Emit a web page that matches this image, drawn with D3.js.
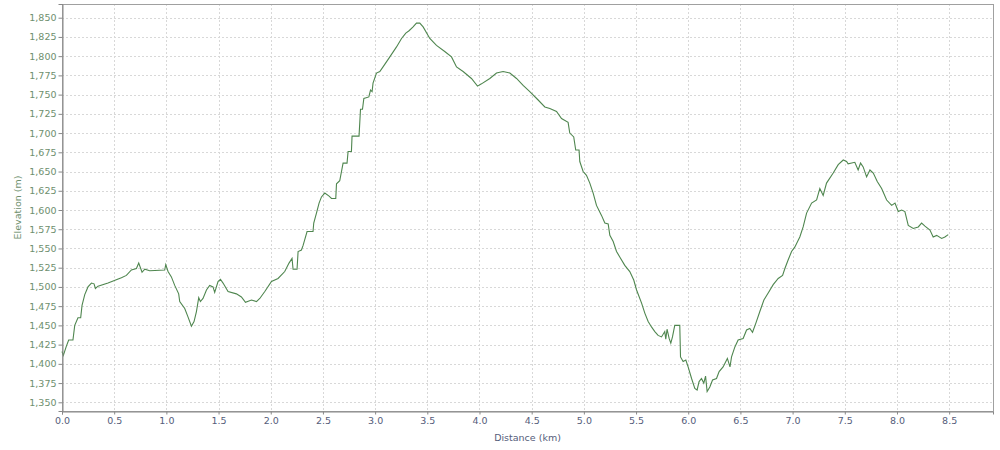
<!DOCTYPE html>
<html>
<head>
<meta charset="utf-8">
<script src="https://cdn.jsdelivr.net/npm/d3@7"></script>
<style>
  html, body { margin: 0; padding: 0; background: #fff; }
  svg { display: block; }
  text { font-family: "DejaVu Sans", sans-serif; }
</style>
</head>
<body>
<svg id="chart" width="1000" height="450"></svg>
<script>
const distanceKm = [0.000,0.013,0.042,0.064,0.105,0.122,0.153,0.179,0.192,0.218,0.249,0.282,0.307,0.320,0.345,0.441,0.569,0.617,0.665,0.713,0.735,0.767,0.793,0.840,0.984,0.994,1.016,1.048,1.080,1.118,1.128,1.176,1.207,1.240,1.265,1.288,1.310,1.326,1.351,1.384,1.415,1.447,1.463,1.495,1.518,1.543,1.591,1.671,1.719,1.758,1.815,1.863,1.895,1.943,2.007,2.070,2.134,2.175,2.204,2.214,2.252,2.262,2.294,2.310,2.348,2.405,2.412,2.438,2.463,2.486,2.518,2.559,2.582,2.623,2.630,2.661,2.693,2.731,2.741,2.773,2.779,2.846,2.860,2.879,2.892,2.940,2.956,2.971,2.980,3.013,3.045,3.076,3.141,3.205,3.253,3.294,3.325,3.364,3.396,3.428,3.460,3.524,3.588,3.667,3.732,3.780,3.843,3.923,3.981,4.019,4.099,4.163,4.226,4.291,4.355,4.418,4.482,4.562,4.626,4.674,4.738,4.786,4.849,4.865,4.903,4.922,4.954,4.961,4.993,5.025,5.057,5.089,5.121,5.169,5.201,5.233,5.249,5.281,5.313,5.344,5.392,5.440,5.478,5.505,5.553,5.584,5.616,5.648,5.680,5.711,5.744,5.775,5.785,5.797,5.817,5.833,5.849,5.871,5.919,5.926,5.951,5.977,5.999,6.032,6.063,6.085,6.104,6.127,6.149,6.166,6.181,6.207,6.233,6.271,6.296,6.334,6.375,6.400,6.415,6.447,6.478,6.526,6.559,6.590,6.616,6.648,6.686,6.725,6.766,6.814,6.862,6.904,6.926,6.957,6.990,7.022,7.069,7.101,7.134,7.182,7.230,7.261,7.293,7.325,7.389,7.437,7.485,7.517,7.532,7.596,7.628,7.651,7.676,7.709,7.741,7.773,7.811,7.853,7.901,7.949,7.981,8.012,8.045,8.076,8.108,8.156,8.204,8.236,8.268,8.316,8.347,8.380,8.428,8.459,8.491];
const elevationM = [1416,1411,1423,1431,1431,1450,1460,1460,1476,1490,1500,1505,1504,1498,1501,1505,1512,1515,1522,1524,1531,1519,1523,1521,1522,1529,1520,1513,1502,1491,1481,1472,1461,1449,1455,1468,1486,1481,1485,1496,1502,1500,1493,1507,1510,1505,1494,1491,1487,1480,1483,1481,1485,1494,1507,1511,1520,1531,1537,1523,1523,1546,1548,1554,1572,1572,1583,1596,1609,1617,1622,1618,1615,1615,1634,1638,1661,1661,1676,1676,1696,1696,1731,1731,1745,1747,1756,1754,1765,1778,1780,1786,1799,1812,1823,1830,1833,1838,1843,1843,1838,1823,1814,1806,1799,1786,1780,1771,1761,1764,1771,1778,1780,1778,1771,1762,1754,1743,1734,1732,1728,1719,1714,1700,1695,1678,1678,1663,1650,1645,1635,1622,1606,1593,1583,1582,1567,1559,1546,1539,1528,1520,1509,1496,1479,1466,1455,1448,1442,1437,1435,1442,1432,1445,1433,1427,1435,1450,1450,1409,1403,1405,1396,1381,1368,1366,1377,1381,1375,1384,1364,1370,1379,1381,1390,1396,1407,1396,1409,1422,1431,1433,1444,1446,1441,1453,1468,1483,1492,1503,1511,1515,1524,1535,1546,1552,1565,1578,1596,1609,1613,1628,1619,1635,1648,1659,1665,1663,1660,1662,1652,1661,1656,1643,1652,1648,1637,1628,1613,1606,1609,1598,1600,1598,1580,1576,1578,1583,1579,1574,1565,1567,1563,1565,1568];
const xTickValues = [0.0,0.5,1.0,1.5,2.0,2.5,3.0,3.5,4.0,4.5,5.0,5.5,6.0,6.5,7.0,7.5,8.0,8.5];
const yTickValues = [1350,1375,1400,1425,1450,1475,1500,1525,1550,1575,1600,1625,1650,1675,1700,1725,1750,1775,1800,1825,1850];
const xTitle = "Distance (km)";
const yTitle = "Elevation (m)";

const data = distanceKm.map((d, i) => ({ d, e: elevationM[i] }));

const svg = d3.select("#chart");
const L = 62, T = 4, R = 993, B = 411;

const x = d3.scaleLinear().domain([0, 8.92]).range([L, R]);
const y = d3.scaleLinear().domain([1338.7, 1867.8]).range([B, T]);

// grid
const grid = svg.append("g").attr("stroke", "#d8d8d8").attr("stroke-dasharray", "2,2").attr("stroke-width", 1);
grid.selectAll("line.v").data(xTickValues).join("line")
  .attr("x1", d => Math.round(x(d)) + 0.5).attr("x2", d => Math.round(x(d)) + 0.5)
  .attr("y1", T).attr("y2", B);
grid.selectAll("line.h").data(yTickValues).join("line")
  .attr("y1", d => Math.round(y(d)) + 0.5).attr("y2", d => Math.round(y(d)) + 0.5)
  .attr("x1", L).attr("x2", R);

// border
svg.append("rect").attr("x", L + 0.5).attr("y", T + 0.5).attr("width", R - L).attr("height", B - T)
  .attr("fill", "none").attr("stroke", "#a0a0a0");

// line
svg.append("path").datum(data)
  .attr("fill", "none").attr("stroke", "#4f864f").attr("stroke-width", 1.1)
  .attr("d", d3.line().x(p => x(p.d)).y(p => y(p.e)));

// axes
const xAxis = svg.append("g").attr("transform", `translate(0,${B + 0.5})`)
  .call(d3.axisBottom(x).tickValues(xTickValues).tickFormat(d3.format(".1f")).tickSize(3).tickPadding(3));
const yAxis = svg.append("g").attr("transform", `translate(${L + 0.5},0)`)
  .call(d3.axisLeft(y).tickValues(yTickValues).tickFormat(d3.format(",")).tickSize(4).tickPadding(2));
[xAxis, yAxis].forEach(g => {
  g.select(".domain").attr("stroke", "#888");
  g.selectAll(".tick line").attr("stroke", "#888");
  g.selectAll("text").style("font-family", "DejaVu Sans, sans-serif").style("font-size", "9.5px");
});
xAxis.selectAll("text").attr("fill", "#555d7a");
yAxis.selectAll("text").attr("fill", "#6e8f6e");

// titles
svg.append("text").attr("x", (L + R) / 2).attr("y", 441).attr("text-anchor", "middle")
  .attr("fill", "#555d7a").style("font-size", "9.5px").text(xTitle);
svg.append("text").attr("transform", `translate(21,${(T + B) / 2}) rotate(-90)`).attr("text-anchor", "middle")
  .attr("fill", "#6e8f6e").style("font-size", "9.5px").text(yTitle);
</script>
</body>
</html>
